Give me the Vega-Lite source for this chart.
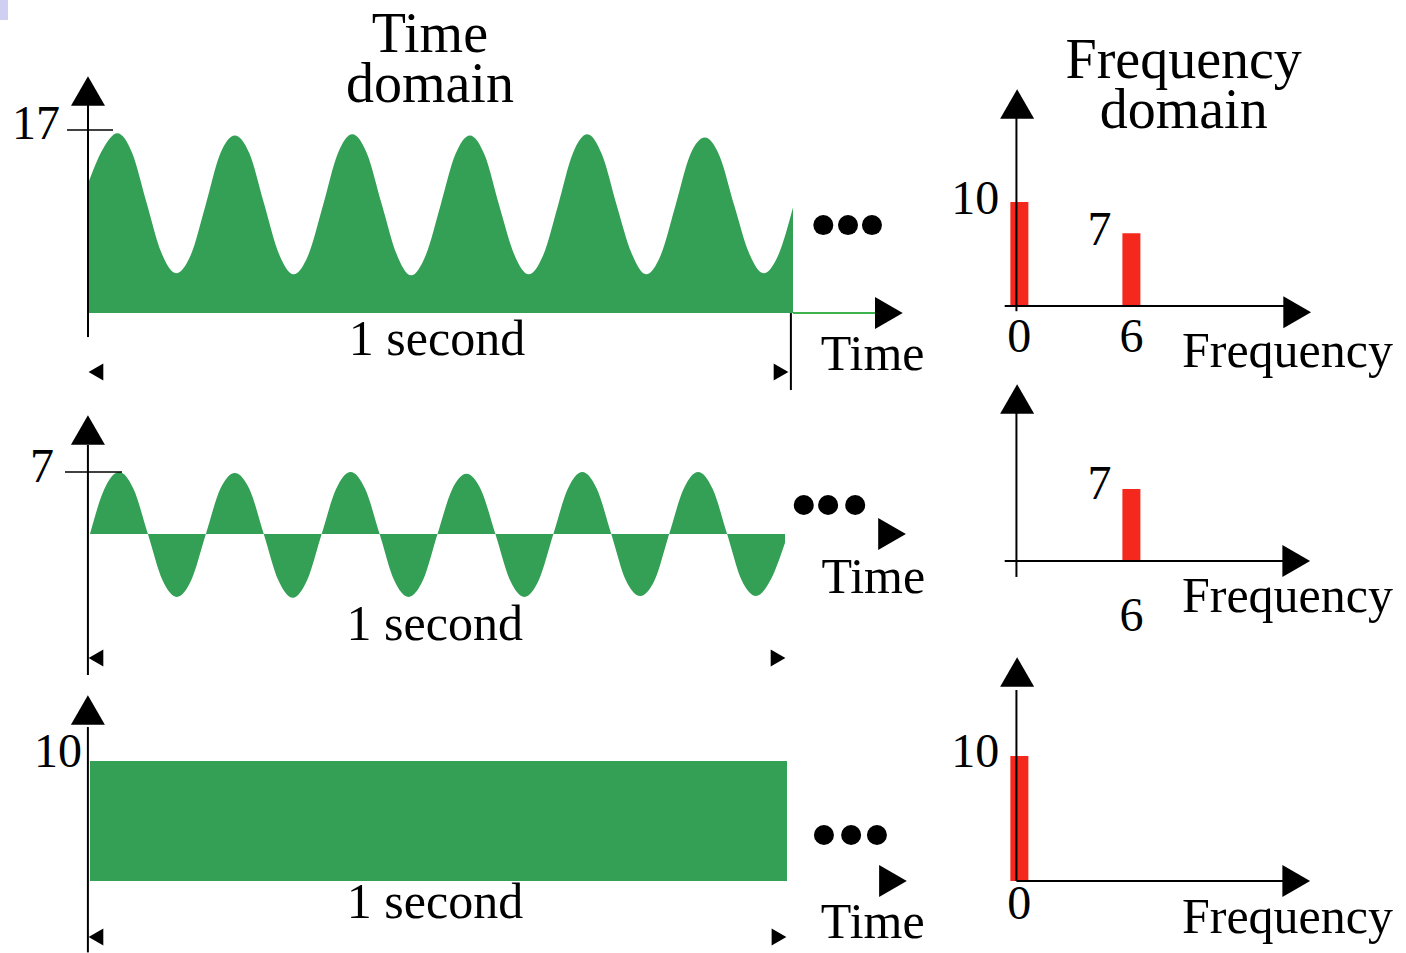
{
  "$schema": "https://vega.github.io/schema/vega-lite/v6.json",
  "padding": 0,
  "background": "white",
  "spacing": 0,
  "bounds": "flush",
  "align": "each",
  "columns": 2,
  "config": {
    "view": {"stroke": null},
    "axis": {"disable": true},
    "legend": {"disable": true},
    "text": {"font": "Liberation Serif", "color": "black"}
  },
  "datasets": {
    "wave1": [
      {"t": 0, "v": 12.0}, {"t": 0.0208, "v": 15.2}, {"t": 0.0417, "v": 16.7}, {"t": 0.0625, "v": 14.9},
      {"t": 0.0833, "v": 10.2}, {"t": 0.1042, "v": 5.6}, {"t": 0.125, "v": 3.7}, {"t": 0.1458, "v": 5.4},
      {"t": 0.1667, "v": 10.0}, {"t": 0.1875, "v": 14.8}, {"t": 0.2083, "v": 16.5}, {"t": 0.2292, "v": 14.8},
      {"t": 0.25, "v": 10.1}, {"t": 0.2708, "v": 5.5}, {"t": 0.2917, "v": 3.6}, {"t": 0.3125, "v": 5.4},
      {"t": 0.3333, "v": 10.0}, {"t": 0.3542, "v": 14.8}, {"t": 0.375, "v": 16.6}, {"t": 0.3958, "v": 14.8},
      {"t": 0.4167, "v": 10.1}, {"t": 0.4375, "v": 5.5}, {"t": 0.4583, "v": 3.5}, {"t": 0.4792, "v": 5.4},
      {"t": 0.5, "v": 10.0}, {"t": 0.5208, "v": 14.7}, {"t": 0.5417, "v": 16.5}, {"t": 0.5625, "v": 14.7},
      {"t": 0.5833, "v": 10.0}, {"t": 0.6042, "v": 5.5}, {"t": 0.625, "v": 3.6}, {"t": 0.6458, "v": 5.4},
      {"t": 0.6667, "v": 10.0}, {"t": 0.6875, "v": 14.8}, {"t": 0.7083, "v": 16.6}, {"t": 0.7292, "v": 14.7},
      {"t": 0.75, "v": 10.0}, {"t": 0.7708, "v": 5.6}, {"t": 0.7917, "v": 3.6}, {"t": 0.8125, "v": 5.4},
      {"t": 0.8333, "v": 10.0}, {"t": 0.8542, "v": 14.7}, {"t": 0.875, "v": 16.3}, {"t": 0.8958, "v": 14.6},
      {"t": 0.9167, "v": 10.0}, {"t": 0.9375, "v": 5.6}, {"t": 0.9583, "v": 3.7}, {"t": 0.9792, "v": 5.4},
      {"t": 1.0, "v": 9.8}
    ],
    "wave2": [
      {"t": 0, "v": 0}, {"t": 0.0208, "v": 5.1}, {"t": 0.0417, "v": 7.0}, {"t": 0.0625, "v": 5.1},
      {"t": 0.0833, "v": 0}, {"t": 0.1042, "v": -5.2}, {"t": 0.125, "v": -7.1}, {"t": 0.1458, "v": -5.2},
      {"t": 0.1667, "v": 0}, {"t": 0.1875, "v": 5.1}, {"t": 0.2083, "v": 6.9}, {"t": 0.2292, "v": 5.1},
      {"t": 0.25, "v": 0}, {"t": 0.2708, "v": -5.2}, {"t": 0.2917, "v": -7.2}, {"t": 0.3125, "v": -5.2},
      {"t": 0.3333, "v": 0}, {"t": 0.3542, "v": 5.1}, {"t": 0.375, "v": 7.0}, {"t": 0.3958, "v": 5.1},
      {"t": 0.4167, "v": 0}, {"t": 0.4375, "v": -5.2}, {"t": 0.4583, "v": -7.1}, {"t": 0.4792, "v": -5.2},
      {"t": 0.5, "v": 0}, {"t": 0.5208, "v": 5.0}, {"t": 0.5417, "v": 6.8}, {"t": 0.5625, "v": 5.0},
      {"t": 0.5833, "v": 0}, {"t": 0.6042, "v": -5.2}, {"t": 0.625, "v": -7.1}, {"t": 0.6458, "v": -5.2},
      {"t": 0.6667, "v": 0}, {"t": 0.6875, "v": 5.1}, {"t": 0.7083, "v": 7.0}, {"t": 0.7292, "v": 5.1},
      {"t": 0.75, "v": 0}, {"t": 0.7708, "v": -5.2}, {"t": 0.7917, "v": -7.0}, {"t": 0.8125, "v": -5.2},
      {"t": 0.8333, "v": 0}, {"t": 0.8542, "v": 5.1}, {"t": 0.875, "v": 7.0}, {"t": 0.8958, "v": 5.1},
      {"t": 0.9167, "v": 0}, {"t": 0.9375, "v": -5.2}, {"t": 0.9583, "v": -7.0}, {"t": 0.9792, "v": -5.2},
      {"t": 1.0, "v": -1.0}
    ],
    "wave3": [{"t": 0, "v": 10}, {"t": 1, "v": 10}],
    "spec1": [{"f": 0, "a": 10}, {"f": 6, "a": 7}],
    "spec2": [{"f": 6, "a": 7}],
    "spec3": [{"f": 0, "a": 10}]
  },
  "concat": [
    {
      "width": 940,
      "height": 380,
      "layer": [
        {
          "data": {"name": "wave1"},
          "mark": {"type": "area", "interpolate": "monotone", "color": "#33a055", "opacity": 1},
          "encoding": {
            "x": {"field": "t", "type": "quantitative", "scale": {"domain": [-0.1248, 1.2085], "nice": false, "zero": false}},
            "y": {"field": "v", "type": "quantitative", "scale": {"domain": [-6.22, 29.08], "nice": false, "zero": false}},
            "y2": {"datum": 0}
          }
        },
        {"data": {"values": [{}]}, "mark": {"type": "rect", "color": "#cfcff2", "opacity": 1}, "encoding": {"x": {"datum": -0.1248}, "x2": {"datum": -0.1135}, "y": {"datum": 29.08}, "y2": {"datum": 27.22}}},
        {"data": {"values": [{}]}, "mark": {"type": "rule", "color": "black", "strokeWidth": 2}, "encoding": {"x": {"datum": 0}, "y": {"datum": 19.32}, "y2": {"datum": -2.23}}},
        {"data": {"values": [{}]}, "mark": {"type": "point", "shape": "triangle-up", "filled": true, "size": 1156, "color": "black", "opacity": 1}, "encoding": {"x": {"datum": 0}, "y": {"datum": 20.62}}},
        {"data": {"values": [{}]}, "mark": {"type": "rule", "color": "black", "strokeWidth": 1.5}, "encoding": {"x": {"datum": -0.0298}, "x2": {"datum": 0.0355}, "y": {"datum": 17}}},
        {"data": {"values": [{}]}, "mark": {"type": "text", "fontSize": 48, "baseline": "middle", "align": "center"}, "encoding": {"x": {"datum": -0.0738}, "y": {"datum": 17.46}, "text": {"value": "17"}}},
        {"data": {"values": [{}]}, "mark": {"type": "text", "fontSize": 56, "lineHeight": 50, "baseline": "alphabetic", "align": "center"}, "encoding": {"x": {"datum": 0.485}, "y": {"datum": 24.25}, "text": {"value": ["Time", "domain"]}}},
        {"data": {"values": [{}]}, "mark": {"type": "rule", "color": "#3cb44b", "strokeWidth": 2}, "encoding": {"x": {"datum": 1.0}, "x2": {"datum": 1.119}, "y": {"datum": 0}}},
        {"data": {"values": [{}]}, "mark": {"type": "point", "shape": "triangle-right", "filled": true, "size": 1024, "color": "black", "opacity": 1}, "encoding": {"x": {"datum": 1.136}, "y": {"datum": 0}}},
        {"data": {"values": [{}]}, "mark": {"type": "rule", "color": "black", "strokeWidth": 2}, "encoding": {"x": {"datum": 0.997}, "y": {"datum": 0}, "y2": {"datum": -7.15}}},
        {"data": {"values": [{}]}, "mark": {"type": "text", "fontSize": 50, "baseline": "alphabetic", "align": "center"}, "encoding": {"x": {"datum": 0.495}, "y": {"datum": -3.9}, "text": {"value": "1 second"}}},
        {"data": {"values": [{}]}, "mark": {"type": "point", "shape": "triangle-left", "filled": true, "size": 289, "color": "black", "opacity": 1}, "encoding": {"x": {"datum": 0.0113}, "y": {"datum": -5.48}}},
        {"data": {"values": [{}]}, "mark": {"type": "point", "shape": "triangle-right", "filled": true, "size": 289, "color": "black", "opacity": 1}, "encoding": {"x": {"datum": 0.983}, "y": {"datum": -5.48}}},
        {"data": {"values": [{}]}, "mark": {"type": "text", "fontSize": 50, "baseline": "alphabetic", "align": "center"}, "encoding": {"x": {"datum": 1.113}, "y": {"datum": -5.29}, "text": {"value": "Time"}}},
        {"data": {"values": [{"t": 1.043}, {"t": 1.078}, {"t": 1.112}]}, "mark": {"type": "point", "shape": "circle", "filled": true, "size": 400, "color": "black", "opacity": 1}, "encoding": {"x": {"field": "t", "type": "quantitative"}, "y": {"datum": 8.17}}}
      ]
    },
    {
      "width": 466,
      "height": 380,
      "layer": [
        {
          "data": {"name": "spec1"},
          "mark": {"type": "bar", "size": 18, "color": "#f5281e", "opacity": 1},
          "encoding": {
            "x": {"field": "f", "type": "quantitative", "scale": {"domain": [-3.983, 20.44], "nice": false, "zero": false}},
            "y": {"field": "a", "type": "quantitative", "scale": {"domain": [-7.115, 29.42], "nice": false, "zero": false}},
            "y2": {"datum": 0}
          }
        },
        {"data": {"name": "spec1"}, "mark": {"type": "text", "fontSize": 48, "baseline": "middle", "align": "right", "dx": -20, "dy": -2}, "encoding": {"x": {"field": "f", "type": "quantitative"}, "y": {"field": "a", "type": "quantitative"}, "text": {"field": "a", "type": "quantitative"}}},
        {"data": {"name": "spec1"}, "mark": {"type": "text", "fontSize": 48, "baseline": "middle", "align": "center"}, "encoding": {"x": {"field": "f", "type": "quantitative"}, "y": {"datum": -3.08}, "text": {"field": "f", "type": "quantitative"}}},
        {"data": {"values": [{}]}, "mark": {"type": "rule", "color": "black", "strokeWidth": 2}, "encoding": {"x": {"datum": -0.157}, "y": {"datum": 18.08}, "y2": {"datum": -0.5}}},
        {"data": {"values": [{}]}, "mark": {"type": "point", "shape": "triangle-up", "filled": true, "size": 1156, "color": "black", "opacity": 1}, "encoding": {"x": {"datum": -0.12}, "y": {"datum": 19.42}}},
        {"data": {"values": [{}]}, "mark": {"type": "rule", "color": "black", "strokeWidth": 2}, "encoding": {"x": {"datum": -0.786}, "x2": {"datum": 14.36}, "y": {"datum": 0}}},
        {"data": {"values": [{}]}, "mark": {"type": "point", "shape": "triangle-right", "filled": true, "size": 1024, "color": "black", "opacity": 1}, "encoding": {"x": {"datum": 14.88}, "y": {"datum": -0.6}}},
        {"data": {"values": [{}]}, "mark": {"type": "text", "fontSize": 50, "baseline": "alphabetic", "align": "center"}, "encoding": {"x": {"datum": 14.36}, "y": {"datum": -5.87}, "text": {"value": "Frequency"}}},
        {"data": {"values": [{}]}, "mark": {"type": "text", "fontSize": 56, "lineHeight": 50, "baseline": "alphabetic", "align": "center"}, "encoding": {"x": {"datum": 8.8}, "y": {"datum": 21.92}, "text": {"value": ["Frequency", "domain"]}}}
      ]
    },
    {
      "width": 940,
      "height": 285,
      "layer": [
        {
          "data": {"name": "wave2"},
          "mark": {"type": "area", "interpolate": "monotone", "color": "#33a055", "opacity": 1},
          "encoding": {
            "x": {"field": "t", "type": "quantitative", "scale": {"domain": [-0.1295, 1.223], "nice": false, "zero": false}},
            "y": {"field": "v", "type": "quantitative", "scale": {"domain": [-14.79, 17.39], "nice": false, "zero": false}},
            "y2": {"datum": 0}
          }
        },
        {"data": {"values": [{}]}, "mark": {"type": "rule", "color": "black", "strokeWidth": 2}, "encoding": {"x": {"datum": -0.003}, "y": {"datum": 10.05}, "y2": {"datum": -15.92}}},
        {"data": {"values": [{}]}, "mark": {"type": "point", "shape": "triangle-up", "filled": true, "size": 1156, "color": "black", "opacity": 1}, "encoding": {"x": {"datum": -0.003}, "y": {"datum": 11.74}}},
        {"data": {"values": [{}]}, "mark": {"type": "rule", "color": "black", "strokeWidth": 1.5}, "encoding": {"x": {"datum": -0.036}, "x2": {"datum": 0.046}, "y": {"datum": 7}}},
        {"data": {"values": [{}]}, "mark": {"type": "text", "fontSize": 48, "baseline": "middle", "align": "center"}, "encoding": {"x": {"datum": -0.069}, "y": {"datum": 7.45}, "text": {"value": "7"}}},
        {"data": {"values": [{"t": 1.027}, {"t": 1.062}, {"t": 1.101}]}, "mark": {"type": "point", "shape": "circle", "filled": true, "size": 400, "color": "black", "opacity": 1}, "encoding": {"x": {"field": "t", "type": "quantitative"}, "y": {"datum": 3.27}}},
        {"data": {"values": [{}]}, "mark": {"type": "point", "shape": "triangle-right", "filled": true, "size": 1024, "color": "black", "opacity": 1}, "encoding": {"x": {"datum": 1.154}, "y": {"datum": 0}}},
        {"data": {"values": [{}]}, "mark": {"type": "text", "fontSize": 50, "baseline": "alphabetic", "align": "center"}, "encoding": {"x": {"datum": 1.127}, "y": {"datum": -6.66}, "text": {"value": "Time"}}},
        {"data": {"values": [{}]}, "mark": {"type": "text", "fontSize": 50, "baseline": "alphabetic", "align": "center"}, "encoding": {"x": {"datum": 0.496}, "y": {"datum": -11.97}, "text": {"value": "1 second"}}},
        {"data": {"values": [{}]}, "mark": {"type": "point", "shape": "triangle-left", "filled": true, "size": 289, "color": "black", "opacity": 1}, "encoding": {"x": {"datum": 0.0086}, "y": {"datum": -14.0}}},
        {"data": {"values": [{}]}, "mark": {"type": "point", "shape": "triangle-right", "filled": true, "size": 289, "color": "black", "opacity": 1}, "encoding": {"x": {"datum": 0.99}, "y": {"datum": -14.0}}}
      ]
    },
    {
      "width": 466,
      "height": 285,
      "layer": [
        {
          "data": {"name": "spec2"},
          "mark": {"type": "bar", "size": 18, "color": "#f5281e", "opacity": 1},
          "encoding": {
            "x": {"field": "f", "type": "quantitative", "scale": {"domain": [-3.983, 20.44], "nice": false, "zero": false}},
            "y": {"field": "a", "type": "quantitative", "scale": {"domain": [-10.107, 17.59], "nice": false, "zero": false}},
            "y2": {"datum": 0}
          }
        },
        {"data": {"name": "spec2"}, "mark": {"type": "text", "fontSize": 48, "baseline": "middle", "align": "right", "dx": -20, "dy": -4}, "encoding": {"x": {"field": "f", "type": "quantitative"}, "y": {"field": "a", "type": "quantitative"}, "text": {"field": "a", "type": "quantitative"}}},
        {"data": {"name": "spec2"}, "mark": {"type": "text", "fontSize": 48, "baseline": "middle", "align": "center"}, "encoding": {"x": {"field": "f", "type": "quantitative"}, "y": {"datum": -5.44}, "text": {"field": "f", "type": "quantitative"}}},
        {"data": {"values": [{}]}, "mark": {"type": "rule", "color": "black", "strokeWidth": 2}, "encoding": {"x": {"datum": -0.157}, "y": {"datum": 14.38}, "y2": {"datum": -1.55}}},
        {"data": {"values": [{}]}, "mark": {"type": "point", "shape": "triangle-up", "filled": true, "size": 1156, "color": "black", "opacity": 1}, "encoding": {"x": {"datum": -0.12}, "y": {"datum": 15.74}}},
        {"data": {"values": [{}]}, "mark": {"type": "rule", "color": "black", "strokeWidth": 2}, "encoding": {"x": {"datum": -0.786}, "x2": {"datum": 14.36}, "y": {"datum": 0}}},
        {"data": {"values": [{}]}, "mark": {"type": "point", "shape": "triangle-right", "filled": true, "size": 1024, "color": "black", "opacity": 1}, "encoding": {"x": {"datum": 14.83}, "y": {"datum": 0}}},
        {"data": {"values": [{}]}, "mark": {"type": "text", "fontSize": 50, "baseline": "alphabetic", "align": "center"}, "encoding": {"x": {"datum": 14.36}, "y": {"datum": -4.96}, "text": {"value": "Frequency"}}}
      ]
    },
    {
      "width": 940,
      "height": 288,
      "layer": [
        {
          "data": {"name": "wave3"},
          "mark": {"type": "area", "color": "#33a055", "opacity": 1},
          "encoding": {
            "x": {"field": "t", "type": "quantitative", "scale": {"domain": [-0.1291, 1.2195], "nice": false, "zero": false}},
            "y": {"field": "v", "type": "quantitative", "scale": {"domain": [-6, 18], "nice": false, "zero": false}},
            "y2": {"datum": 0}
          }
        },
        {"data": {"values": [{}]}, "mark": {"type": "rule", "color": "black", "strokeWidth": 2}, "encoding": {"x": {"datum": -0.003}, "y": {"datum": 12.83}, "y2": {"datum": -5.95}}},
        {"data": {"values": [{}]}, "mark": {"type": "point", "shape": "triangle-up", "filled": true, "size": 1156, "color": "black", "opacity": 1}, "encoding": {"x": {"datum": -0.003}, "y": {"datum": 14.25}}},
        {"data": {"values": [{}]}, "mark": {"type": "text", "fontSize": 48, "baseline": "middle", "align": "center"}, "encoding": {"x": {"datum": -0.046}, "y": {"datum": 10.67}, "text": {"value": "10"}}},
        {"data": {"values": [{"t": 1.053}, {"t": 1.092}, {"t": 1.129}]}, "mark": {"type": "point", "shape": "circle", "filled": true, "size": 400, "color": "black", "opacity": 1}, "encoding": {"x": {"field": "t", "type": "quantitative"}, "y": {"datum": 3.83}}},
        {"data": {"values": [{}]}, "mark": {"type": "point", "shape": "triangle-right", "filled": true, "size": 1024, "color": "black", "opacity": 1}, "encoding": {"x": {"datum": 1.152}, "y": {"datum": 0}}},
        {"data": {"values": [{}]}, "mark": {"type": "text", "fontSize": 50, "baseline": "alphabetic", "align": "center"}, "encoding": {"x": {"datum": 1.123}, "y": {"datum": -4.75}, "text": {"value": "Time"}}},
        {"data": {"values": [{}]}, "mark": {"type": "text", "fontSize": 50, "baseline": "alphabetic", "align": "center"}, "encoding": {"x": {"datum": 0.495}, "y": {"datum": -3.08}, "text": {"value": "1 second"}}},
        {"data": {"values": [{}]}, "mark": {"type": "point", "shape": "triangle-left", "filled": true, "size": 289, "color": "black", "opacity": 1}, "encoding": {"x": {"datum": 0.0086}, "y": {"datum": -4.67}}},
        {"data": {"values": [{}]}, "mark": {"type": "point", "shape": "triangle-right", "filled": true, "size": 289, "color": "black", "opacity": 1}, "encoding": {"x": {"datum": 0.9885}, "y": {"datum": -4.67}}}
      ]
    },
    {
      "width": 466,
      "height": 288,
      "layer": [
        {
          "data": {"name": "spec3"},
          "mark": {"type": "bar", "size": 18, "color": "#f5281e", "opacity": 1},
          "encoding": {
            "x": {"field": "f", "type": "quantitative", "scale": {"domain": [-3.983, 20.44], "nice": false, "zero": false}},
            "y": {"field": "a", "type": "quantitative", "scale": {"domain": [-5.76, 17.28], "nice": false, "zero": false}},
            "y2": {"datum": 0}
          }
        },
        {"data": {"name": "spec3"}, "mark": {"type": "text", "fontSize": 48, "baseline": "middle", "align": "right", "dx": -20, "dy": -3}, "encoding": {"x": {"field": "f", "type": "quantitative"}, "y": {"field": "a", "type": "quantitative"}, "text": {"field": "a", "type": "quantitative"}}},
        {"data": {"name": "spec3"}, "mark": {"type": "text", "fontSize": 48, "baseline": "middle", "align": "center"}, "encoding": {"x": {"field": "f", "type": "quantitative"}, "y": {"datum": -1.92}, "text": {"field": "f", "type": "quantitative"}}},
        {"data": {"values": [{}]}, "mark": {"type": "rule", "color": "black", "strokeWidth": 2}, "encoding": {"x": {"datum": -0.157}, "y": {"datum": 15.28}, "y2": {"datum": 0}}},
        {"data": {"values": [{}]}, "mark": {"type": "point", "shape": "triangle-up", "filled": true, "size": 1156, "color": "black", "opacity": 1}, "encoding": {"x": {"datum": -0.12}, "y": {"datum": 16.72}}},
        {"data": {"values": [{}]}, "mark": {"type": "rule", "color": "black", "strokeWidth": 2}, "encoding": {"x": {"datum": -0.157}, "x2": {"datum": 14.36}, "y": {"datum": 0}}},
        {"data": {"values": [{}]}, "mark": {"type": "point", "shape": "triangle-right", "filled": true, "size": 1024, "color": "black", "opacity": 1}, "encoding": {"x": {"datum": 14.83}, "y": {"datum": 0}}},
        {"data": {"values": [{}]}, "mark": {"type": "text", "fontSize": 50, "baseline": "alphabetic", "align": "center"}, "encoding": {"x": {"datum": 14.36}, "y": {"datum": -4.16}, "text": {"value": "Frequency"}}}
      ]
    }
  ]
}
